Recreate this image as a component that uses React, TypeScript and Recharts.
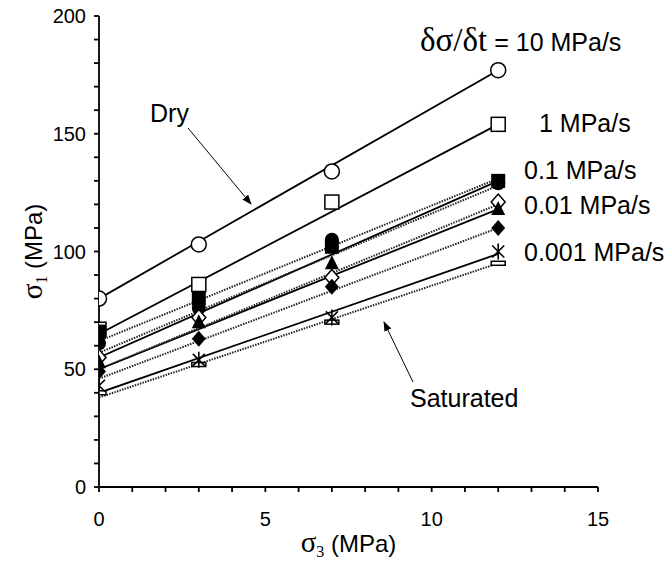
import React from 'react';
import { ScatterChart, Scatter, XAxis, YAxis, Label } from 'recharts';

// ---- data ----
const confining = [0, 3, 7, 12];
const fitEnds = [0, 12];

// markers (sigma1 at sigma3 = 0, 3, 7, 12)
const openCircle = [80, 103, 134, 177];
const openSquare = [67, 86, 121, 154];
const filledCircle = [61, 76, 105, 129];
const filledSquare = [66, 80, 102, 130];
const openDiamond = [55, 72, 89, 121];
const filledTriangle = [53, 70, 95, 118];
const filledDiamond = [49, 63, 85, 110];
const asterisk = [43, 54, 72, 100];
const dash = [40, 52, 70, 95];

// fitted lines (value at sigma3 = 0 and 12)
const dryFits = [
  [80, 177],
  [65, 154],
  [55, 130],
  [50, 118],
  [40, 99],
];
const satFits = [
  [62, 131],
  [57, 128],
  [50, 120],
  [46, 110],
  [38, 95],
];

const xTicks = [0, 1, 2, 3, 4, 5, 6, 7, 8, 9, 10, 11, 12, 13, 14, 15];
const yTicks = [0, 10, 20, 30, 40, 50, 60, 70, 80, 90, 100, 110, 120, 130, 140, 150, 160, 170, 180, 190, 200];

const rateLabels = ['1 MPa/s', '0.1 MPa/s', '0.01 MPa/s', '0.001 MPa/s'];

const SANS = "'Liberation Sans', Arial, sans-serif";
const SERIF = "'Liberation Serif', 'Times New Roman', serif";

const toPts = (xs: number[], ys: number[]) => xs.map((x, i) => ({ x, y: ys[i] }));

const Empty = () => <g />;

const OpenCircle = (p: any) => <circle cx={p.cx} cy={p.cy} r={7.5} fill="#fff" stroke="#000" strokeWidth={1.5} />;
const FilledCircle = (p: any) => <circle cx={p.cx} cy={p.cy} r={7} fill="#000" />;
const OpenSquare = (p: any) => <rect x={p.cx - 7} y={p.cy - 7} width={14} height={14} fill="#fff" stroke="#000" strokeWidth={1.5} />;
const FilledSquare = (p: any) => <rect x={p.cx - 7} y={p.cy - 7} width={14} height={14} fill="#000" />;
const OpenDiamond = (p: any) => (
  <path d={`M${p.cx},${p.cy - 8} L${p.cx + 7},${p.cy} L${p.cx},${p.cy + 8} L${p.cx - 7},${p.cy} Z`} fill="#fff" stroke="#000" strokeWidth={1.5} />
);
const FilledDiamond = (p: any) => (
  <path d={`M${p.cx},${p.cy - 8} L${p.cx + 7},${p.cy} L${p.cx},${p.cy + 8} L${p.cx - 7},${p.cy} Z`} fill="#000" />
);
const FilledTriangle = (p: any) => (
  <path d={`M${p.cx},${p.cy - 8} L${p.cx + 7},${p.cy + 6} L${p.cx - 7},${p.cy + 6} Z`} fill="#000" />
);
const Asterisk = (p: any) => (
  <g stroke="#000" strokeWidth={1.6}>
    <line x1={p.cx - 6} y1={p.cy - 6} x2={p.cx + 6} y2={p.cy + 6} />
    <line x1={p.cx - 6} y1={p.cy + 6} x2={p.cx + 6} y2={p.cy - 6} />
    <line x1={p.cx} y1={p.cy - 8} x2={p.cx} y2={p.cy + 8} />
  </g>
);
const Dash = (p: any) => <rect x={p.cx - 7} y={p.cy - 2} width={14} height={4} fill="#fff" stroke="#000" strokeWidth={1.5} />;

const markerSets: [number[], any][] = [
  [openCircle, OpenCircle],
  [openSquare, OpenSquare],
  [filledSquare, FilledSquare],
  [filledCircle, FilledCircle],
  [openDiamond, OpenDiamond],
  [filledTriangle, FilledTriangle],
  [filledDiamond, FilledDiamond],
  [dash, Dash],
  [asterisk, Asterisk],
];

const XTitle = (props: any) => {
  const vb = props.viewBox || {};
  const cx = vb.x + vb.width / 2;
  return (
    <text x={cx} y={vb.y + vb.height - 12} textAnchor="middle" fontFamily={SANS} fontSize={24} fill="#000">
      <tspan fontFamily={SERIF} fontSize={29}>σ</tspan>
      <tspan fontFamily={SERIF} fontSize={16} dy={5}>3</tspan>
      <tspan dy={-5}> (MPa)</tspan>
    </text>
  );
};

const YTitle = (props: any) => {
  const vb = props.viewBox || {};
  const cy = vb.y + vb.height / 2;
  const x = 42;
  return (
    <text x={x} y={cy} transform={`rotate(-90 ${x} ${cy})`} textAnchor="middle" fontFamily={SANS} fontSize={24} fill="#000">
      <tspan fontFamily={SERIF} fontSize={29}>σ</tspan>
      <tspan fontFamily={SERIF} fontSize={16} dy={5}>1</tspan>
      <tspan dy={-5}> (MPa)</tspan>
    </text>
  );
};

export default function App() {
  return (
    <div style={{ position: 'absolute', left: 0, top: 0, width: 672, height: 564, background: '#fff' }}>
      <ScatterChart width={672} height={564} margin={{ top: 16, right: 74, bottom: 0, left: 0 }}>
        <XAxis
          type="number"
          dataKey="x"
          domain={[0, 15]}
          ticks={xTicks}
          interval={0}
          tickFormatter={(v: number) => (v % 5 === 0 ? String(v) : '')}
          height={77}
          tickSize={5}
          tickMargin={20}
          stroke="#000"
          strokeWidth={1.8}
          tick={{ fill: '#000', fontSize: 20, fontFamily: SANS }}
          allowDataOverflow
        >
          <Label content={XTitle} />
        </XAxis>
        <YAxis
          type="number"
          dataKey="y"
          domain={[0, 200]}
          ticks={yTicks}
          interval={0}
          tickFormatter={(v: number) => (v % 50 === 0 ? String(v) : '')}
          width={99}
          tickSize={5}
          tickMargin={8}
          stroke="#000"
          strokeWidth={1.8}
          tick={{ fill: '#000', fontSize: 20, fontFamily: SANS }}
          allowDataOverflow
        >
          <Label content={YTitle} />
        </YAxis>
        {dryFits.map((f, i) => (
          <Scatter
            key={'d' + i}
            data={toPts(fitEnds, f)}
            line={{ stroke: '#000', strokeWidth: 1.8 }}
            shape={Empty}
            isAnimationActive={false}
          />
        ))}
        {satFits.map((f, i) => (
          <Scatter
            key={'s' + i}
            data={toPts(fitEnds, f)}
            line={{ stroke: '#222', strokeWidth: 2, strokeDasharray: '1.5 1.2' }}
            shape={Empty}
            isAnimationActive={false}
          />
        ))}
        {markerSets.map(([vals, shape], i) => (
          <Scatter key={'m' + i} data={toPts(confining, vals)} shape={shape} isAnimationActive={false} />
        ))}
      </ScatterChart>
      <svg width={672} height={564} style={{ position: 'absolute', left: 0, top: 0, pointerEvents: 'none' }}>
        <defs>
          <marker id="ah" viewBox="0 0 10 10" refX="9" refY="5" markerWidth="10" markerHeight="10" orient="auto">
            <path d="M0,1.2 L10,5 L0,8.8 Z" fill="#000" />
          </marker>
        </defs>
        <g fontFamily={SANS} fontSize={25} fill="#000">
          <text x={420} y={51}>
            <tspan fontFamily={SERIF} fontSize={33}>δσ/δt</tspan>
            <tspan> = 10 MPa/s</tspan>
          </text>
          <text x={539} y={132}>{rateLabels[0]}</text>
          <text x={524} y={179}>{rateLabels[1]}</text>
          <text x={524} y={214}>{rateLabels[2]}</text>
          <text x={524} y={261}>{rateLabels[3]}</text>
          <text x={150} y={122}>Dry</text>
          <text x={410} y={407}>Saturated</text>
        </g>
        <line x1={188} y1={128} x2={251} y2={204} stroke="#000" strokeWidth={1} markerEnd="url(#ah)" />
        <line x1={413} y1={382} x2={384} y2={322} stroke="#000" strokeWidth={1} markerEnd="url(#ah)" />
      </svg>
    </div>
  );
}
